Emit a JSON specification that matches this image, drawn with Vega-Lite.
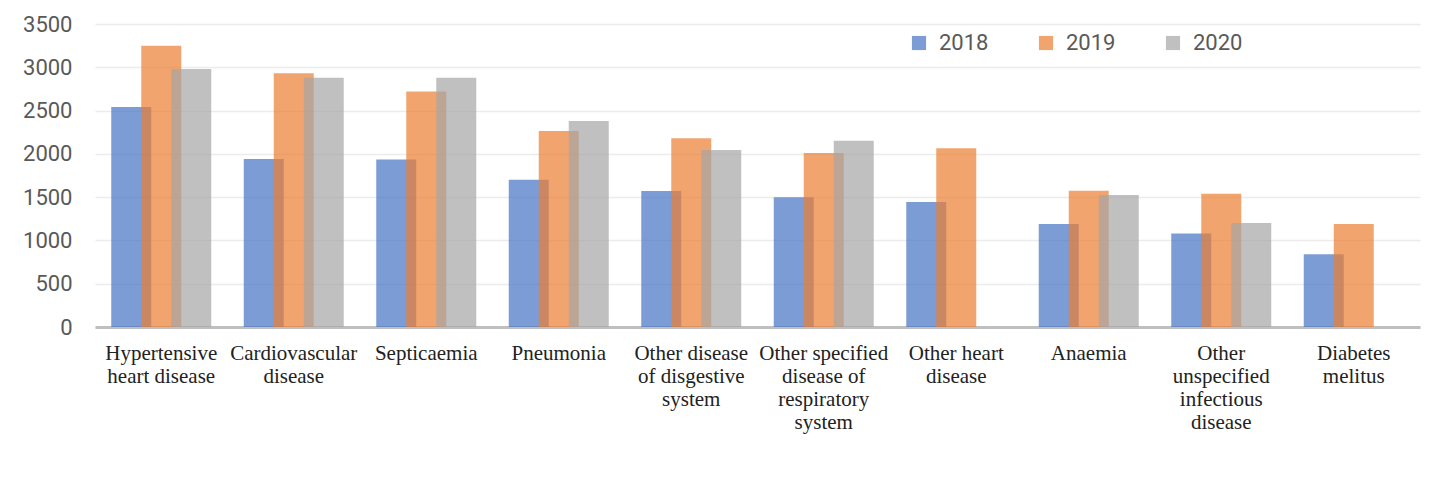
{
  "$schema": "https://vega.github.io/schema/vega-lite/v6.json",
  "width": 1325,
  "height": 303,
  "autosize": {"type": "none"},
  "padding": {"left": 95, "top": 24, "right": 15, "bottom": 159},
  "background": "white",
  "config": {"view": {"stroke": null}},
  "data": {
    "values": [
      {"cause": "Hypertensive heart disease", "year": "2018", "deaths": 2540},
      {"cause": "Hypertensive heart disease", "year": "2019", "deaths": 3250},
      {"cause": "Hypertensive heart disease", "year": "2020", "deaths": 2980},
      {"cause": "Cardiovascular disease", "year": "2018", "deaths": 1940},
      {"cause": "Cardiovascular disease", "year": "2019", "deaths": 2930},
      {"cause": "Cardiovascular disease", "year": "2020", "deaths": 2880},
      {"cause": "Septicaemia", "year": "2018", "deaths": 1935},
      {"cause": "Septicaemia", "year": "2019", "deaths": 2720},
      {"cause": "Septicaemia", "year": "2020", "deaths": 2880},
      {"cause": "Pneumonia", "year": "2018", "deaths": 1700},
      {"cause": "Pneumonia", "year": "2019", "deaths": 2265},
      {"cause": "Pneumonia", "year": "2020", "deaths": 2380},
      {"cause": "Other disease of disgestive system", "year": "2018", "deaths": 1570},
      {"cause": "Other disease of disgestive system", "year": "2019", "deaths": 2180},
      {"cause": "Other disease of disgestive system", "year": "2020", "deaths": 2045},
      {"cause": "Other specified disease of respiratory system", "year": "2018", "deaths": 1500},
      {"cause": "Other specified disease of respiratory system", "year": "2019", "deaths": 2010},
      {"cause": "Other specified disease of respiratory system", "year": "2020", "deaths": 2150},
      {"cause": "Other heart disease", "year": "2018", "deaths": 1445},
      {"cause": "Other heart disease", "year": "2019", "deaths": 2065},
      {"cause": "Anaemia", "year": "2018", "deaths": 1190},
      {"cause": "Anaemia", "year": "2019", "deaths": 1575},
      {"cause": "Anaemia", "year": "2020", "deaths": 1525},
      {"cause": "Other unspecified infectious disease", "year": "2018", "deaths": 1080},
      {"cause": "Other unspecified infectious disease", "year": "2019", "deaths": 1540},
      {"cause": "Other unspecified infectious disease", "year": "2020", "deaths": 1200},
      {"cause": "Diabetes melitus", "year": "2018", "deaths": 840},
      {"cause": "Diabetes melitus", "year": "2019", "deaths": 1190}
    ]
  },
  "encoding": {
    "x": {
      "field": "cause",
      "type": "nominal",
      "sort": null,
      "scale": {
        "domain": ["Hypertensive heart disease", "Cardiovascular disease", "Septicaemia", "Pneumonia", "Other disease of disgestive system", "Other specified disease of respiratory system", "Other heart disease", "Anaemia", "Other unspecified infectious disease", "Diabetes melitus"],
        "paddingInner": 0,
        "paddingOuter": 0
      },
      "axis": {
        "title": null,
        "labelAngle": 0,
        "ticks": false,
        "domainColor": "#bfbfbf",
        "domainWidth": 3,
        "labelFont": "Liberation Serif",
        "labelFontSize": 21,
        "labelColor": "#222222",
        "labelLineHeight": 23,
        "labelPadding": 15,
        "labelOverlap": false,
        "labelBound": false,
        "labelLimit": 0,
        "labelExpr": "({'Hypertensive heart disease': ['Hypertensive', 'heart disease'], 'Cardiovascular disease': ['Cardiovascular', 'disease'], 'Other disease of disgestive system': ['Other disease', 'of disgestive', 'system'], 'Other specified disease of respiratory system': ['Other specified', 'disease of', 'respiratory', 'system'], 'Other heart disease': ['Other heart', 'disease'], 'Other unspecified infectious disease': ['Other', 'unspecified', 'infectious', 'disease'], 'Diabetes melitus': ['Diabetes', 'melitus']})[datum.label] || datum.label"
      }
    },
    "y": {
      "field": "deaths",
      "type": "quantitative",
      "scale": {"domain": [0, 3500], "nice": false},
      "axis": {
        "title": null,
        "values": [0, 500, 1000, 1500, 2000, 2500, 3000, 3500],
        "format": "d",
        "domain": false,
        "ticks": false,
        "labelPadding": 23,
        "labelFont": "Roboto",
        "labelFontSize": 22,
        "labelColor": "#595959",
        "gridColor": "#ececec",
        "gridWidth": 1.5
      }
    },
    "color": {
      "field": "year",
      "type": "nominal",
      "scale": {"domain": ["2018", "2019", "2020"], "range": ["#4472C4", "#ED7D31", "#A5A5A5"]},
      "legend": {
        "title": null,
        "orient": "none",
        "legendX": 813,
        "legendY": 8,
        "direction": "horizontal",
        "symbolType": "square",
        "symbolSize": 200,
        "symbolStrokeWidth": 0,
        "labelFont": "Roboto",
        "labelFontSize": 22,
        "labelColor": "#595959",
        "labelOffset": 9,
        "columnPadding": 46
      }
    }
  },
  "layer": [
    {
      "transform": [{"filter": "datum.year == '2018'"}],
      "mark": {"type": "bar", "width": 40, "xOffset": -30, "opacity": 0.7}
    },
    {
      "transform": [{"filter": "datum.year == '2019'"}],
      "mark": {"type": "bar", "width": 40, "xOffset": 0, "opacity": 0.7}
    },
    {
      "transform": [{"filter": "datum.year == '2020'"}],
      "mark": {"type": "bar", "width": 40, "xOffset": 30, "opacity": 0.7}
    }
  ]
}
